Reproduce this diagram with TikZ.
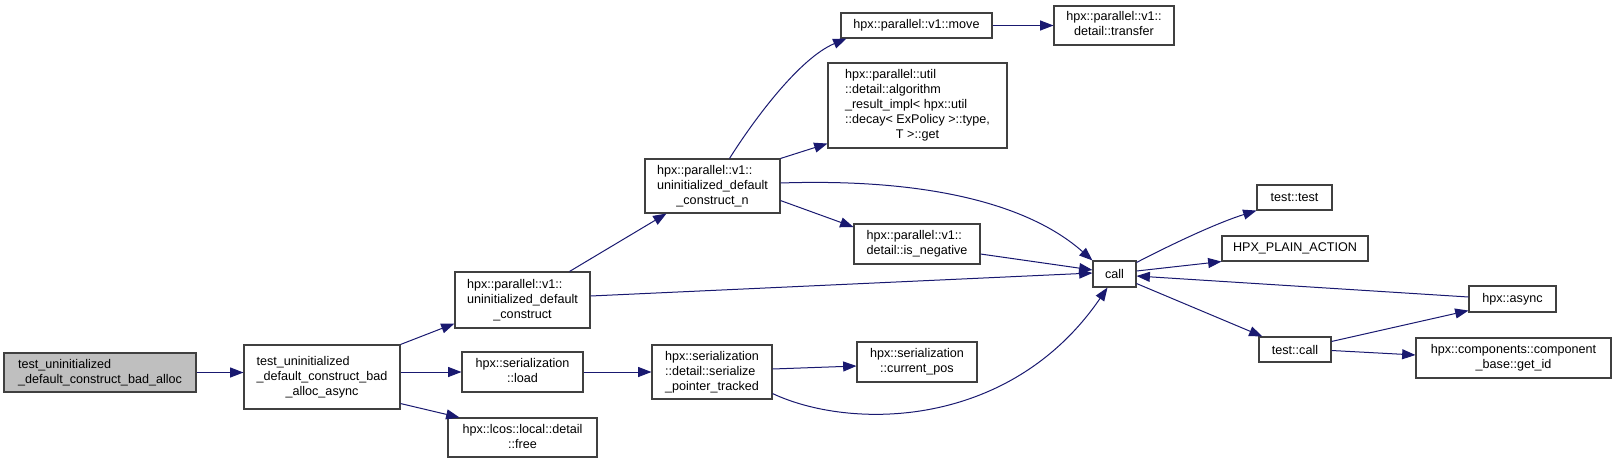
\documentclass[tikz,border=0pt]{standalone}
\usepackage{fontspec}
\setmainfont{Liberation Sans}
\usetikzlibrary{arrows.meta,calc}
\definecolor{edgec}{HTML}{191970}
\definecolor{boxc}{HTML}{404040}
\definecolor{hl}{HTML}{BFBFBF}
\newcommand\lc[1]{\multicolumn{1}{@{}c@{}}{#1}}
\newcommand\tb[1]{\begin{tabular}{@{}l@{}}#1\end{tabular}}
\newcommand\bx[7][]{\node[box,#1,minimum width={(#5-#3)*0.75pt},minimum height={(#6-#4)*0.75pt}] (#2) at ({(#3+#5)/2},{(#4+#6)/2}) {#7};}
\tikzset{
  box/.style={draw=boxc,line width=0.8pt,fill=white,inner sep=0pt,
    font=\fontsize{9.45}{11.25}\selectfont},
  edge/.style={draw=edgec,line width=0.75pt,-{Triangle[length=10pt,width=7.5pt]}}
}
\begin{document}
\begin{tikzpicture}[x=0.75pt,y=-0.75pt]
\useasboundingbox (0,0) rectangle (1616,464);
\bx[fill=hl]{n1}{4}{353}{196}{392}{\tb{test\_uninitialized\\\_default\_construct\_bad\_alloc}}
\bx{n2}{244}{345}{400}{409}{\tb{test\_uninitialized\\\_default\_construct\_bad\\\lc{\_alloc\_async}}}
\bx{uc}{455}{272}{590}{328}{\tb{hpx::parallel::v1::\\uninitialized\_default\\\lc{\_construct}}}
\bx{un}{645}{159}{780}{213}{\tb{hpx::parallel::v1::\\uninitialized\_default\\\lc{\_construct\_n}}}
\bx{mv}{841}{13}{992}{38}{hpx::parallel::v1::move}
\bx{tr}{1054}{6}{1174}{45}{\tb{hpx::parallel::v1::\\\lc{detail::transfer}}}
\bx{ar}{828}{63}{1007}{148}{\tb{hpx::parallel::util\\::detail::algorithm\\\_result\_impl< hpx::util\\::decay< ExPolicy >::type,\\\lc{T >::get}}}
\bx{isn}{854}{224}{980}{264}{\tb{hpx::parallel::v1::\\detail::is\_negative}}
\bx{call}{1093}{261}{1136}{287}{call}
\bx{ld}{462}{352}{583}{392}{\tb{hpx::serialization\\\lc{::load}}}
\bx{sp}{652}{345}{772}{399}{\tb{hpx::serialization\\::detail::serialize\\\lc{\_pointer\_tracked}}}
\bx{fr}{448}{418}{597}{457}{\tb{hpx::lcos::local::detail\\\lc{::free}}}
\bx{cp}{857}{342}{977}{382}{\tb{hpx::serialization\\\lc{::current\_pos}}}
\bx{tt}{1257}{185}{1332}{210}{test::test}
\bx{hpa}{1222}{236}{1368}{261}{HPX\_PLAIN\_ACTION}
\bx{as}{1469}{286}{1556}{312}{hpx::async}
\bx{tc}{1259}{337}{1331}{362}{test::call}
\bx{gi}{1416}{338}{1611}{378}{\tb{hpx::components::component\\\lc{\_base::get\_id}}}
% edges
\draw[edge] (n1.east) -- (n1.east -| n2.west);
\draw[edge] (n2.north east) -- ($(uc.south west)+(0,-5)$);
\draw[edge] (ld.west -| n2.east) -- (ld.west);
\draw[edge] ($(n2.south east)+(0,-6)$) -- ($(fr.north west)+(12,0)$);
\draw[edge] ($(uc.north)+(47,0)$) -- ($(un.south west)+(22,0)$);
\draw[edge] ($(uc.east)+(0,-4)$) -- ($(call.west)+(0,-1)$);
\draw[edge] ($(un.north)+(17,0)$) .. controls (755,118) and (800,58) .. ($(mv.south west)+(6,0)$);
\draw[edge] (un.north east) -- ($(ar.south west)+(0,-5)$);
\draw[edge] ($(un.east)+(0,-3)$) .. controls (930,178) and (1030,205) .. (call.north west);
\draw[edge] ($(un.south east)+(0,-13)$) -- ($(isn.west)+(0,-17)$);
\draw[edge] ($(isn.east)+(0,10)$) -- ($(call.west)+(0,-4)$);
\draw[edge] (ld.east) -- (ld.east -| sp.west);
\draw[edge] ($(sp.east)+(0,-3)$) -- ($(cp.west)+(0,4)$);
\draw[edge] ($(sp.south east)+(0,-6)$) .. controls (850,430) and (1010,430) .. ($(call.south)+(-7,0)$);
\draw[edge] ($(call.north east)+(0,2)$) .. controls (1180,240) and (1220,222) .. (tt.south west);
\draw[edge] ($(call.east)+(0,-3)$) -- (hpa.south west);
\draw[edge] ($(as.west)+(0,-2)$) -- ($(call.east)+(0,2)$);
\draw[edge] ($(call.south east)+(0,-4)$) -- ($(tc.north west)+(4,0)$);
\draw[edge] ($(tc.north east)+(0,5)$) -- ($(as.south west)+(0,-2)$);
\draw[edge] ($(tc.east)+(0,1)$) -- ($(gi.west)+(0,-3)$);
\draw[edge] (mv.east) -- (mv.east -| tr.west);
\end{tikzpicture}
\end{document}
